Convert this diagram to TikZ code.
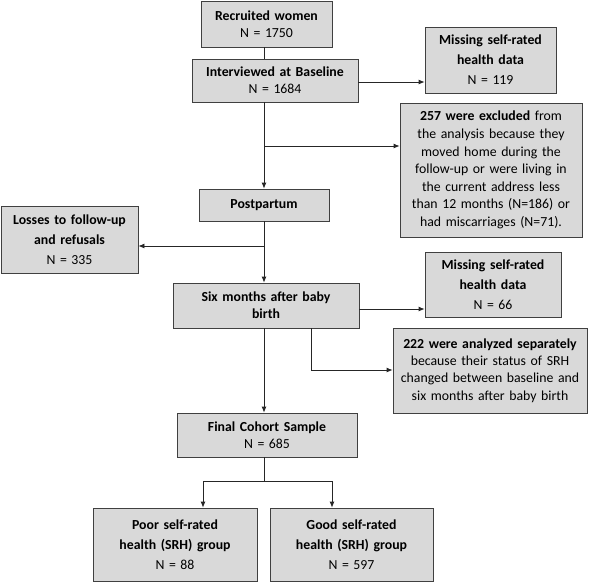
\documentclass[tikz,border=0pt]{standalone}
\usepackage{fontspec}
\setmainfont{Carlito}
\usetikzlibrary{arrows.meta}
\begin{document}
\begin{tikzpicture}[x=1pt,y=-1pt,
  box/.style={draw=black!75, line width=0.8pt, fill=black!15, inner sep=0pt, align=center,
    font=\fontsize{13.8}{17}\selectfont},
  arr/.style={draw=black!85, line width=0.8pt, -{Latex[length=6pt,width=5pt]}},
  ln/.style={draw=black!85, line width=0.8pt}]
\useasboundingbox (0,0) rectangle (600,582);
\node[box, minimum width=131pt, minimum height=46pt, text width=128pt] (rec) at (266.5,24) {\textbf{Recruited women}\\N = 1750};
\node[box, minimum width=166pt, minimum height=43pt, text width=163pt] (base) at (275,80.5) {\textbf{Interviewed at Baseline}\\N = 1684};
\node[box, minimum width=131pt, minimum height=66pt, text width=128pt] (miss1) at (490.5,60) {\textbf{Missing self-rated}\\[3pt]\textbf{health data}\\[3pt]N = 119};
\node[box, minimum width=182pt, minimum height=134pt, text width=180pt, font=\fontsize{13.8}{17.6}\selectfont] (excl) at (491,170) {\textbf{257 were excluded} from\\the analysis because they\\moved home during the\\follow-up or were living in\\the current address less\\than 12 months (N=186) or\\had miscarriages (N=71).};
\node[box, minimum width=130pt, minimum height=32pt, text width=127pt] (post) at (264,205) {\textbf{Postpartum}};
\node[box, minimum width=137pt, minimum height=67pt, text width=134pt] (loss) at (69.5,239.5) {\textbf{Losses to follow-up}\\[3pt]\textbf{and refusals}\\[3pt]N = 335};
\node[box, minimum width=186pt, minimum height=45pt, text width=183pt] (six) at (266,305.5) {\textbf{Six months after baby}\\\textbf{birth}};
\node[box, minimum width=136pt, minimum height=65pt, text width=133pt] (miss2) at (493,284.5) {\textbf{Missing self-rated}\\[3pt]\textbf{health data}\\[3pt]N = 66};
\node[box, minimum width=194pt, minimum height=85pt, text width=192pt, font=\fontsize{13.8}{17.3}\selectfont] (sep) at (490,370.5) {\textbf{222 were analyzed separately}\\because their status of SRH\\changed between baseline and\\six months after baby birth};
\node[box, minimum width=180pt, minimum height=44pt, text width=177pt] (final) at (267,435) {\textbf{Final Cohort Sample}\\N = 685};
\node[box, minimum width=164pt, minimum height=73pt, text width=161pt] (poor) at (175,544.5) {\textbf{Poor self-rated}\\[3pt]\textbf{health (SRH) group}\\[3pt]N = 88};
\node[box, minimum width=163pt, minimum height=73pt, text width=160pt] (good) at (351.5,544.5) {\textbf{Good self-rated}\\[3pt]\textbf{health (SRH) group}\\[3pt]N = 597};
% connectors
\draw[ln] (rec.south -| post.north) -- (base.north -| post.north);
\draw[arr] (base.south -| post.north) -- (post.north);
\draw[arr] (base.east) ++(0,1.5) coordinate (b1) -- (b1 -| miss1.west);
\coordinate (j1) at (264,146);
\draw[arr] (j1) -- (j1 -| excl.west);
\draw[arr] (post.south) -- (post.south |- six.north);
\coordinate (j2) at (264,246);
\draw[arr] (j2) -- (j2 -| loss.east);
\draw[arr] (six.east) ++(0,3.5) coordinate (s1) -- (s1 -| miss2.west);
\coordinate (s2) at (311,328);
\coordinate (s3) at (311,370);
\draw[arr] (s2) -- (s3) -- (s3 -| sep.west);
\draw[arr] (six.south -| post.south) -- (final.north -| post.south);
\coordinate (f1) at (post.south |- 0,481);
\coordinate (fl) at (203,481);
\coordinate (fr) at (332,481);
\draw[ln] (final.south -| f1) -- (f1);
\draw[ln] (fl) -- (fr);
\draw[arr] (fl) -- (fl |- poor.north);
\draw[arr] (fr) -- (fr |- good.north);
\end{tikzpicture}
\end{document}
